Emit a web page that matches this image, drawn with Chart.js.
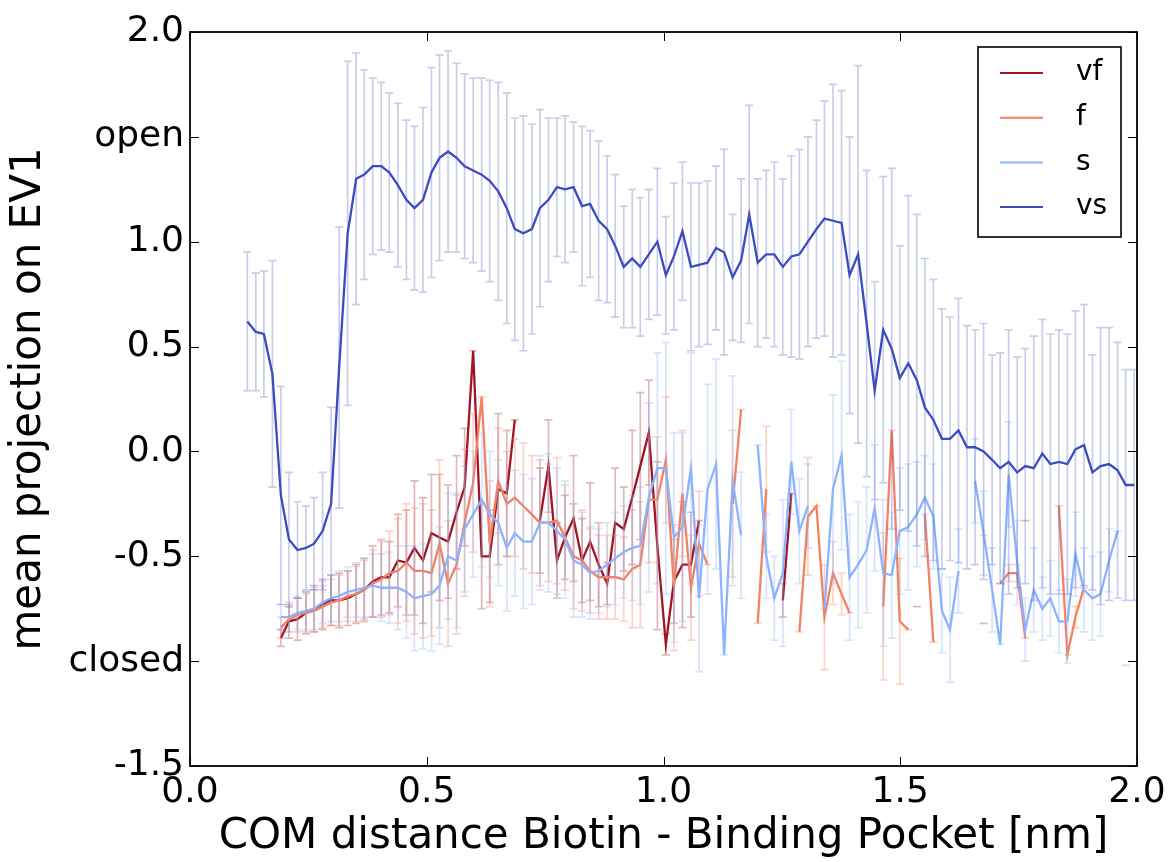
<!DOCTYPE html>
<html>
<head>
<meta charset="utf-8">
<script src="https://cdn.jsdelivr.net/npm/chart.js@4.4.1/dist/chart.umd.min.js"></script>
<style>
  html, body { margin: 0; padding: 0; background: #fff; }
  canvas { display: block; }
</style>
</head>
<body>
<canvas id="ev1Chart" width="1171" height="862"></canvas>
<script>
// COM distance bin centres [nm]
const distance = [
  0.121, 0.139, 0.156, 0.174, 0.192, 0.209, 0.227, 0.245, 0.262, 0.280,
  0.298, 0.315, 0.333, 0.351, 0.368, 0.386, 0.404, 0.421, 0.439, 0.457,
  0.474, 0.492, 0.510, 0.527, 0.545, 0.563, 0.580, 0.598, 0.616, 0.633,
  0.651, 0.669, 0.686, 0.704, 0.722, 0.739, 0.757, 0.775, 0.792, 0.810,
  0.828, 0.845, 0.863, 0.881, 0.898, 0.916, 0.934, 0.951, 0.969, 0.987,
  1.005, 1.022, 1.040, 1.058, 1.075, 1.093, 1.111, 1.128, 1.146, 1.164,
  1.181, 1.199, 1.217, 1.234, 1.252, 1.270, 1.287, 1.305, 1.323, 1.340,
  1.358, 1.376, 1.393, 1.411, 1.429, 1.446, 1.464, 1.482, 1.499, 1.517,
  1.535, 1.552, 1.570, 1.588, 1.605, 1.623, 1.641, 1.658, 1.676, 1.694,
  1.711, 1.729, 1.747, 1.764, 1.782, 1.800, 1.817, 1.835, 1.853, 1.870,
  1.888, 1.906, 1.923, 1.941, 1.959, 1.976, 1.994
];

const vf = [
  null, null, null, null, -0.89, -0.81, -0.80, -0.77, -0.75, -0.73,
  -0.71, -0.71, -0.70, -0.68, -0.66, -0.62, -0.60, -0.60, -0.52, -0.53,
  -0.46, -0.52, -0.39, -0.41, -0.43, -0.29, -0.17, 0.48, -0.50, -0.50,
  -0.18, -0.20, 0.15, null, null, -0.33, -0.07, -0.52, -0.41, -0.32,
  -0.52, -0.43, -0.54, -0.63, -0.34, -0.37, -0.22, -0.07, 0.09, -0.45,
  -0.92, -0.62, -0.54, -0.54, -0.33, null, null, null, null, null,
  null, null, null, null, -0.71, -0.20, null, null, null, null,
  null, null, null, null, null, null, null, null, null, null,
  -0.74, null, null, null, null, null, null, null, -0.82, null,
  null, null, null, -0.33, null, null, null, null, null, null,
  null, null, null, null, null, null, null
];
const vfErr = [
  0, 0, 0, 0, 0.04, 0.08, 0.10, 0.10, 0.11, 0.12,
  0.12, 0.13, 0.13, 0.14, 0.15, 0.17, 0.18, 0.17, 0.22, 0.25,
  0.32, 0.30, 0.28, 0.30, 0.27, 0.27, 0.28, 0, 0.25, 0.22,
  0.36, 0.30, 0, 0, 0, 0.25, 0.22, 0.18, 0.20, 0.30,
  0.20, 0.28, 0.20, 0.10, 0.26, 0.20, 0.32, 0.35, 0.25, 0.40,
  0.05, 0.20, 0.30, 0.25, 0, 0, 0, 0, 0, 0,
  0, 0, 0, 0, 0.08, 0, 0, 0, 0, 0,
  0, 0, 0, 0, 0, 0, 0, 0, 0, 0,
  0, 0, 0, 0, 0, 0, 0, 0, 0, 0,
  0, 0, 0, 0, 0, 0, 0, 0, 0, 0,
  0, 0, 0, 0, 0, 0, 0
];

const f = [
  null, null, null, null, -0.84, -0.80, -0.78, -0.77, -0.76, -0.74,
  -0.72, -0.71, -0.69, -0.68, -0.66, -0.63, -0.61, -0.58, -0.57, -0.53,
  -0.57, -0.57, -0.58, -0.44, -0.63, -0.54, -0.34, -0.15, 0.26, -0.44,
  -0.14, -0.25, -0.22, -0.26, -0.30, -0.34, -0.34, -0.33, -0.41, -0.50,
  -0.52, -0.57, -0.60, -0.60, -0.60, -0.61, -0.56, -0.54, -0.23, -0.23,
  -0.04, -0.65, -0.20, -0.65, -0.44, -0.54, null, null, -0.25, 0.20,
  null, -0.82, -0.18, null, null, null, -0.86, -0.31, -0.26, -0.79,
  -0.58, -0.68, -0.77, null, null, null, -0.74, 0.10, -0.81, -0.85,
  null, -0.30, -0.91, null, null, null, null, null, -0.40, null,
  -0.63, -0.58, -0.58, -0.89, null, null, null, -0.26, -0.97, -0.79,
  -0.65, null, null, null, null, -1.02, null
];
const fErr = [
  0, 0, 0, 0, 0.05, 0.06, 0.08, 0.09, 0.10, 0.10,
  0.11, 0.12, 0.12, 0.13, 0.14, 0.16, 0.18, 0.20, 0.25, 0.28,
  0.30, 0.32, 0.30, 0.40, 0.30, 0.33, 0.35, 0.33, 0, 0.30,
  0.25, 0.25, 0.28, 0.30, 0.28, 0.30, 0.28, 0.30, 0.25, 0.25,
  0.24, 0.20, 0.20, 0.20, 0.20, 0.20, 0.28, 0.30, 0.30, 0.30,
  0.30, 0.30, 0.30, 0.25, 0.25, 0, 0, 0, 0.35, 0,
  0, 0, 0.30, 0, 0, 0, 0, 0.28, 0, 0.25,
  0.15, 0.10, 0, 0, 0, 0, 0.35, 0, 0.30, 0,
  0, 0, 0, 0, 0, 0, 0, 0, 0, 0,
  0, 0.04, 0.04, 0, 0, 0, 0, 0, 0, 0.05,
  0, 0, 0, 0, 0, 0, 0
];

const s = [
  null, null, null, null, -0.79, -0.79, -0.77, -0.76, -0.75, -0.72,
  -0.70, -0.69, -0.67, -0.66, -0.65, -0.64, -0.65, -0.65, -0.65, -0.67,
  -0.70, -0.69, -0.68, -0.64, -0.50, -0.52, -0.37, -0.30, -0.23, -0.30,
  -0.34, -0.46, -0.39, -0.43, -0.43, -0.34, -0.34, -0.38, -0.42, -0.52,
  -0.54, -0.58, -0.57, -0.54, -0.51, -0.48, -0.46, -0.45, -0.22, -0.08,
  -0.08, -0.41, -0.36, -0.08, -0.70, -0.18, -0.06, -0.97, -0.14, -0.40,
  null, 0.03, -0.50, -0.70, -0.58, -0.05, -0.38, -0.26, null, -0.75,
  -0.18, -0.02, -0.60, -0.54, -0.47, -0.27, -0.58, -0.59, -0.38, -0.36,
  -0.30, -0.22, -0.31, -0.76, -0.85, -0.57, null, -0.14, -0.39, -0.66,
  -0.92, -0.11, -0.53, -0.85, -0.66, -0.75, -0.70, -0.81, -0.81, -0.49,
  -0.66, -0.70, -0.68, -0.52, -0.38, null, null
];
const sErr = [
  0, 0, 0, 0, 0.06, 0.07, 0.08, 0.09, 0.10, 0.10,
  0.11, 0.12, 0.12, 0.13, 0.14, 0.15, 0.16, 0.17, 0.20, 0.22,
  0.25, 0.25, 0.27, 0.28, 0.30, 0.32, 0.30, 0.30, 0.32, 0.30,
  0.30, 0.30, 0.30, 0.32, 0.30, 0.32, 0.33, 0.30, 0.28, 0.27,
  0.25, 0.22, 0.20, 0.20, 0.22, 0.22, 0.25, 0.28, 0.45, 0.55,
  0.60, 0.50, 0.45, 0.55, 0.35, 0.50, 0.50, 0, 0.50, 0.30,
  0, 0, 0.20, 0.20, 0.35, 0.25, 0.25, 0.20, 0, 0,
  0.45, 0.45, 0.30, 0.30, 0.30, 0.30, 0.35, 0.30, 0.30, 0.30,
  0.25, 0.20, 0.25, 0.20, 0.25, 0.20, 0, 0.20, 0.20, 0.20,
  0, 0.25, 0.20, 0.15, 0.20, 0.15, 0.18, 0.15, 0.20, 0.20,
  0.20, 0.20, 0.20, 0.15, 0, 0, 0
];

const vs = [
  0.62, 0.57, 0.56, 0.37, -0.21, -0.42, -0.47, -0.46, -0.44, -0.38,
  -0.25, 0.40, 1.04, 1.30, 1.32, 1.36, 1.36, 1.33, 1.27, 1.20,
  1.16, 1.20, 1.33, 1.40, 1.43, 1.40, 1.36, 1.34, 1.32, 1.29,
  1.24, 1.16, 1.06, 1.04, 1.06, 1.16, 1.20, 1.26, 1.25, 1.26,
  1.17, 1.18, 1.10, 1.06, 0.98, 0.88, 0.92, 0.88, 0.94, 1.00,
  0.84, 0.93, 1.05, 0.88, 0.89, 0.90, 0.97, 0.95, 0.83, 0.91,
  1.13, 0.90, 0.94, 0.94, 0.88, 0.93, 0.94, 1.00, 1.06, 1.11,
  1.10, 1.09, 0.84, 0.94, 0.61, 0.29, 0.58, 0.49, 0.35, 0.42,
  0.34, 0.21, 0.15, 0.06, 0.06, 0.10, 0.02, 0.02, 0.00, -0.04,
  -0.08, -0.05, -0.10, -0.07, -0.08, -0.01, -0.06, -0.05, -0.06, 0.01,
  0.03, -0.10, -0.07, -0.06, -0.09, -0.16, -0.16
];
const vsErr = [
  0.33, 0.28, 0.30, 0.54, 0.52, 0.32, 0.23, 0.20, 0.22, 0.28,
  0.46, 0.67, 0.82, 0.60, 0.50, 0.42, 0.40, 0.38, 0.39, 0.38,
  0.39, 0.44, 0.50, 0.49, 0.48, 0.45, 0.44, 0.44, 0.46, 0.48,
  0.52, 0.55, 0.53, 0.56, 0.50, 0.47, 0.39, 0.33, 0.35, 0.31,
  0.38, 0.35, 0.38, 0.35, 0.34, 0.29, 0.33, 0.33, 0.31, 0.35,
  0.28, 0.35, 0.33, 0.40, 0.39, 0.39, 0.39, 0.49, 0.30, 0.39,
  0.52, 0.40, 0.40, 0.44, 0.42, 0.48, 0.50, 0.50, 0.52, 0.56,
  0.65, 0.63, 0.66, 0.90, 0.73, 0.52, 0.73, 0.86, 0.63, 0.80,
  0.79, 0.71, 0.67, 0.62, 0.58, 0.63, 0.58, 0.56, 0.61, 0.50,
  0.55, 0.63, 0.55, 0.56, 0.63, 0.64, 0.62, 0.63, 0.62, 0.66,
  0.67, 0.56, 0.66, 0.65, 0.61, 0.55, 0.55
];

// tick labels
const xTicks = [0.0, 0.5, 1.0, 1.5, 2.0];
const yTicks = [2.0, 1.5, 1.0, 0.5, 0.0, -0.5, -1.0, -1.5];
const yTickNames = { '1.5': 'open', '-1': 'closed' };

const FONT = "'DejaVu Sans', sans-serif";

function points(values) {
    return distance.map((d, i) => ({ x: d, y: values[i] }));
}

// error bars drawn just before each dataset's line
const errorBars = {
    id: 'errorBars',
    beforeDatasetDraw(chart, args) {
        const ds = chart.data.datasets[args.index];
        const xs = chart.scales.x, ys = chart.scales.y;
        const area = chart.chartArea;
        const ctx = chart.ctx;
        ctx.save();
        ctx.beginPath();
        ctx.rect(area.left, area.top, area.right - area.left, area.bottom - area.top);
        ctx.clip();
        ctx.strokeStyle = ds.errColor;
        ctx.lineWidth = 1.7;
        ds.data.forEach((p, i) => {
            if (p.y === null) return;
            const e = ds.err[i] || 0;
            const px = xs.getPixelForValue(p.x);
            const top = ys.getPixelForValue(p.y + e);
            const bot = ys.getPixelForValue(p.y - e);
            ctx.beginPath();
            ctx.moveTo(px, top); ctx.lineTo(px, bot);
            ctx.moveTo(px - 4, top); ctx.lineTo(px + 4, top);
            ctx.moveTo(px - 4, bot); ctx.lineTo(px + 4, bot);
            ctx.stroke();
        });
        ctx.restore();
    }
};

// frame, inward ticks on every side, legend box
const frameAndLegend = {
    id: 'frameAndLegend',
    afterDraw(chart) {
        const ctx = chart.ctx;
        const a = chart.chartArea;
        const xs = chart.scales.x, ys = chart.scales.y;
        ctx.save();
        ctx.strokeStyle = '#000';
        ctx.lineWidth = 1;
        ctx.beginPath();
        xTicks.forEach(t => {
            const px = Math.round(xs.getPixelForValue(t)) + 0.5;
            ctx.moveTo(px, a.bottom); ctx.lineTo(px, a.bottom - 9);
            ctx.moveTo(px, a.top); ctx.lineTo(px, a.top + 9);
        });
        yTicks.forEach(t => {
            const py = Math.round(ys.getPixelForValue(t)) + 0.5;
            ctx.moveTo(a.left, py); ctx.lineTo(a.left + 9, py);
            ctx.moveTo(a.right, py); ctx.lineTo(a.right - 9, py);
        });
        ctx.stroke();
        ctx.lineWidth = 1.8;
        ctx.strokeRect(a.left, a.top, a.right - a.left, a.bottom - a.top);

        // legend
        const lx = 978, ly = 47, lw = 143, lh = 190;
        ctx.fillStyle = '#fff';
        ctx.fillRect(lx, ly, lw, lh);
        ctx.lineWidth = 1.6;
        ctx.strokeRect(lx, ly, lw, lh);
        ctx.font = '28px ' + FONT;
        ctx.textBaseline = 'middle';
        ctx.textAlign = 'left';
        chart.data.datasets.slice().sort((p, q) => p.legendRank - q.legendRank).forEach((ds, k) => {
            const y = ly + 26 + k * 44.7;
            ctx.strokeStyle = ds.borderColor;
            ctx.lineWidth = 2;
            ctx.beginPath();
            ctx.moveTo(1000, y); ctx.lineTo(1043, y);
            ctx.stroke();
            ctx.fillStyle = '#000';
            ctx.fillText(ds.label, 1076, y);
        });
        ctx.restore();
    }
};

const ctx = document.getElementById('ev1Chart').getContext('2d');
const chart = new Chart(ctx, {
    type: 'line',
    data: {
        datasets: [
            { label: 'vs', data: points(vs), err: vsErr, legendRank: 3, order: 1,
              borderColor: 'rgb(59,76,192)', errColor: 'rgba(59,76,192,0.28)' },
            { label: 's', data: points(s), err: sErr, legendRank: 2, order: 2,
              borderColor: 'rgb(141,178,254)', errColor: 'rgba(141,178,254,0.35)' },
            { label: 'f', data: points(f), err: fErr, legendRank: 1, order: 3,
              borderColor: 'rgb(244,128,98)', errColor: 'rgba(244,128,98,0.35)' },
            { label: 'vf', data: points(vf), err: vfErr, legendRank: 0, order: 4,
              borderColor: 'rgb(160,20,35)', errColor: 'rgba(160,20,35,0.3)' }
        ]
    },
    options: {
        responsive: false,
        animation: false,
        devicePixelRatio: 1,
        spanGaps: false,
        layout: { padding: { left: 0, right: 34, top: 32, bottom: 0 } },
        elements: {
            point: { radius: 0, hoverRadius: 0 },
            line: { borderWidth: 2.3, tension: 0, fill: false }
        },
        plugins: {
            legend: { display: false },
            tooltip: { enabled: false }
        },
        scales: {
            x: {
                type: 'linear',
                min: 0, max: 2,
                afterFit(scale) { scale.height = 96; },
                afterBuildTicks(scale) { scale.ticks = xTicks.map(v => ({ value: v })); },
                grid: { display: false, drawTicks: false },
                border: { display: false },
                ticks: {
                    padding: 5,
                    color: '#000',
                    font: { family: FONT, size: 36 },
                    maxRotation: 0,
                    callback: v => v.toFixed(1)
                },
                title: {
                    display: true,
                    text: 'COM distance Biotin - Binding Pocket [nm]',
                    color: '#000',
                    font: { family: FONT, size: 42 },
                    padding: { top: 0, bottom: 0 }
                }
            },
            y: {
                type: 'linear',
                min: -1.5, max: 2,
                afterFit(scale) { scale.width = 190; },
                afterBuildTicks(scale) { scale.ticks = yTicks.map(v => ({ value: v })); },
                grid: { display: false, drawTicks: false },
                border: { display: false },
                ticks: {
                    padding: 6,
                    color: '#000',
                    font: { family: FONT, size: 36 },
                    callback: v => yTickNames[String(v)] || v.toFixed(1)
                },
                title: {
                    display: true,
                    text: 'mean projection on EV1',
                    color: '#000',
                    font: { family: FONT, size: 42 },
                    padding: { top: 4, bottom: 0 }
                }
            }
        }
    },
    plugins: [errorBars, frameAndLegend]
});
</script>
</body>
</html>
